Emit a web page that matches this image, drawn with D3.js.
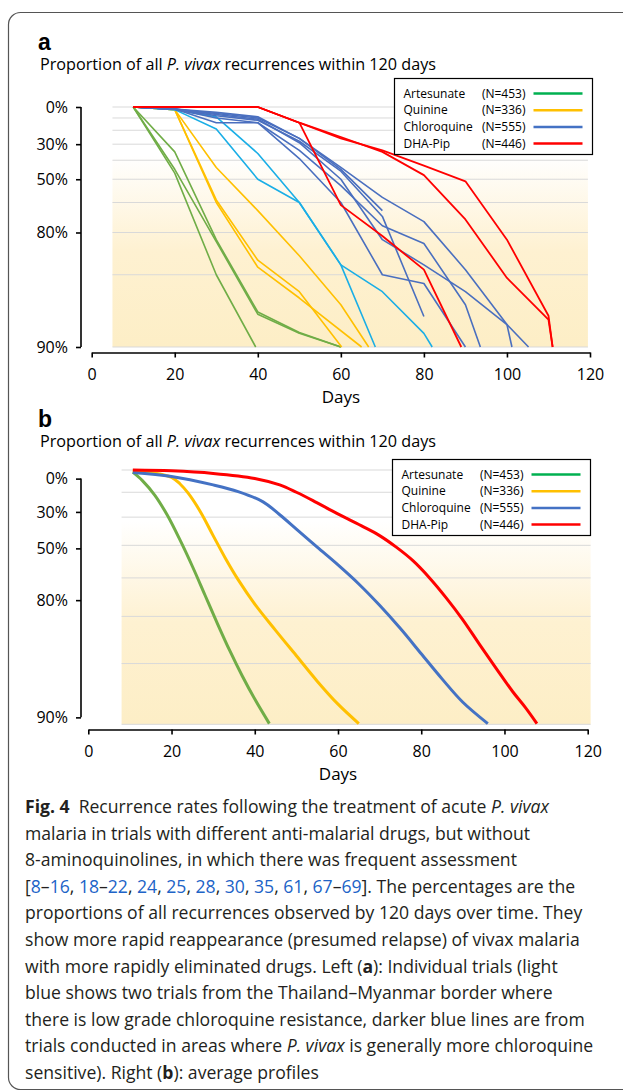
<!DOCTYPE html>
<html>
<head>
<meta charset="utf-8">
<script src="https://cdn.jsdelivr.net/npm/d3@7"></script>
<style>
  body { margin: 0; background: #fff; }
  svg { display: block; }
</style>
</head>
<body>
<svg width="623" height="1092"></svg>
<script>
var svg = d3.select('svg');
var font = "'Open Sans', sans-serif";

// Legend / categories
var drugs = ['Artesunate', 'Quinine', 'Chloroquine', 'DHA-Pip'];
var drugN = ['(N=453)', '(N=336)', '(N=555)', '(N=446)'];
var legendColours = ['#00b050', '#ffc000', '#4472c4', '#ff0000'];

// Axis ticks
var xTicks = [0, 20, 40, 60, 80, 100, 120];
var yTickLabels = ['0%', '30%', '50%', '80%', '90%'];
var yTicksA = [0, 30, 50, 70, 90];
var yTicksB = [4, 18, 31, 46, 69];
var gridA = [0, 10, 20, 30, 40, 50, 60, 70, 80, 90];
var gridB = [0, 10, 20, 30, 40, 50, 60, 70];

// Panel a: individual trials, [day, % of recurrences]
var artesunateTrials = [
    [[10, 0], [20, 35], [30, 72], [40, 86], [50, 88.5], [60, 90]],
    [[10, 0], [20, 47], [30, 80], [39.5, 90]],
    [[10, 0], [20, 45], [30, 72.5], [40, 86.3], [50, 88.6], [60, 90]]
];
var quinineTrials = [
    [[10, 0], [20, 2.5], [30, 44], [40, 63], [50, 76], [60, 85], [66.7, 90]],
    [[10, 0], [20, 2.5], [30, 59], [40, 77], [50, 83], [60.2, 90]],
    [[10, 0], [20, 2.5], [30, 60], [40, 78.5], [50, 84], [65, 90]]
];
var chloroquineTrials = [
    [[10, 0], [20, 2], [30, 6], [40, 10], [50, 26], [60, 45], [70, 63]],
    [[10, 0], [20, 2], [30, 8], [40, 12], [50, 28], [60, 46], [70, 65], [80, 86.6]],
    [[10, 0], [20, 2], [30, 10], [40, 14], [50, 34], [60, 53], [70, 68], [80, 73], [90, 85], [93.6, 90]],
    [[10, 0], [20, 2], [30, 5], [40, 9], [50, 26], [60, 44], [70, 58], [80, 66.7], [90, 79], [100, 87.6], [101.2, 90]],
    [[10, 0], [20, 2], [30, 7], [40, 11], [50, 29], [60, 50], [70, 72], [80, 78], [90, 83], [100, 87.6], [105.2, 90]],
    [[10, 0], [20, 2], [30, 14], [40, 14], [50, 39], [60, 60], [70, 80], [80, 81.6], [90, 90]]
];
var chloroquineThaiTrials = [
    [[10, 0], [20, 2.5], [30, 19], [40, 50], [50, 60], [60, 78], [70, 83], [80, 88.6], [82, 90]],
    [[10, 0], [20, 2.5], [30, 9], [40, 36], [50, 60], [60, 78], [68.3, 90]]
];
var dhaPipTrials = [
    [[10, 0], [40, 0], [50, 14], [60, 26], [70, 34], [80, 43], [90, 51], [100, 72], [110, 86.5], [111, 90]],
    [[10, 0], [40, 0], [50, 14], [60, 25], [70, 35], [80, 48], [90, 66], [100, 80.6], [110, 87], [111, 90]],
    [[10, 0], [40, 0], [50, 14], [60, 61], [70, 71], [80, 79], [89, 90]]
];

// Panel b: average profiles
var artesunateAvg = [[10.7, 1], [13, 4.9], [16, 11.3], [19, 19.3], [22, 28.1], [25, 36.6], [28, 44.6], [31, 51.6], [34, 57.5], [37, 62.3], [40, 66.2], [43.5, 69.9]];
var quinineAvg = [[10.7, 0.3], [15, 1.2], [20, 3.4], [22, 6.3], [24, 10.4], [27, 18.1], [30, 26.7], [33, 34.3], [36, 40.5], [40, 47], [45, 53.2], [50, 58.5], [55, 63.2], [60, 67], [65, 69.9]];
var chloroquineAvg = [[10.7, 1.2], [20, 3], [30, 6.8], [36, 9.7], [42, 14], [46, 19.1], [50, 24.4], [55, 30.6], [60, 36.2], [65, 41.7], [70, 47.3], [75, 52.8], [80, 58.1], [85, 62.8], [90, 66.7], [96, 69.9]];
var dhaPipAvg = [[10.7, 0], [20, 0.4], [30, 1.6], [40, 3.9], [46, 6.8], [50, 10], [54, 13.5], [58, 17.1], [62, 20.4], [66, 23.5], [70, 26.7], [74, 30.6], [78, 34.9], [82, 40], [86, 45.4], [90, 50.8], [94, 56.2], [98, 60.9], [102, 65], [105, 67.5], [107.8, 69.9]];

// Figure frame
svg.append('rect')
    .attr('x', 8.5).attr('y', 12.5)
    .attr('width', 640).attr('height', 1077)
    .attr('rx', 12)
    .attr('fill', 'none')
    .attr('stroke', '#555')
    .attr('stroke-width', 1.2);

var grad = svg.append('defs').append('linearGradient')
    .attr('id', 'cream')
    .attr('x1', 0).attr('y1', 0).attr('x2', 0).attr('y2', 1);
[[0, '#ffffff'], [0.2, '#ffffff'], [0.6, '#fef1d1'], [1, '#fdeec6']].forEach(function(s) {
    grad.append('stop').attr('offset', s[0]).attr('stop-color', s[1]);
});

function frac(p) {
    return 1 - p / 100;
}

function drawPanel(cfg) {
    var x = d3.scaleLinear().domain([0, 120]).range([cfg.left, cfg.right]);
    var y = d3.scaleLog().domain([1, frac(cfg.maxPct)]).range([cfg.top, cfg.bottom]);
    var g = svg.append('g');

    g.append('text')
        .attr('x', 38).attr('y', cfg.letterY)
        .style('font-family', 'Liberation Sans, Arial, sans-serif')
        .style('font-weight', 'bold')
        .style('font-size', '23px')
        .text(cfg.letter);

    var title = g.append('text')
        .attr('x', 40).attr('y', cfg.titleY)
        .style('font-family', font)
        .style('font-size', '16.2px');
    title.append('tspan').text('Proportion of all ');
    title.append('tspan').style('font-style', 'italic').text('P. vivax');
    title.append('tspan').text(' recurrences within 120 days');

    g.append('rect')
        .attr('x', x(cfg.plotFrom))
        .attr('y', cfg.top)
        .attr('width', x(cfg.plotTo) - x(cfg.plotFrom))
        .attr('height', cfg.bottom - cfg.top)
        .attr('fill', 'url(#cream)');

    g.selectAll('.grid')
        .data(cfg.grid)
        .enter()
        .append('line')
        .attr('class', 'grid')
        .attr('x1', x(cfg.plotFrom))
        .attr('x2', x(cfg.plotTo))
        .attr('y1', function(d) { return y(frac(d)); })
        .attr('y2', function(d) { return y(frac(d)); })
        .attr('stroke', '#d9d9d9')
        .attr('stroke-width', 1);

    // y axis, labels sit where the original put them
    var yAxis = d3.axisLeft(y)
        .tickValues(cfg.yTicks.map(frac))
        .tickFormat(function(d, i) { return yTickLabels[i]; })
        .tickSize(5)
        .tickSizeOuter(0);
    var yg = g.append('g')
        .attr('transform', 'translate(' + cfg.yAxisX + ',0)')
        .call(yAxis);
    var first = y(frac(cfg.yTicks[0]));
    var last = y(frac(cfg.yTicks[cfg.yTicks.length - 1]));
    yg.select('.domain').attr('d', 'M0,' + first + 'V' + last);

    var xAxis = d3.axisBottom(x)
        .tickValues(xTicks)
        .tickSize(5)
        .tickSizeOuter(0);
    var xg = g.append('g')
        .attr('transform', 'translate(0,' + cfg.xAxisY + ')')
        .call(xAxis);

    [yg, xg].forEach(function(a) {
        a.selectAll('.domain, .tick line').attr('stroke', '#000').attr('stroke-width', 1.6);
        a.selectAll('text')
            .style('font-family', font)
            .style('font-size', '16px')
            .attr('fill', '#000');
    });
    yg.selectAll('text').attr('x', -13);
    xg.selectAll('text').attr('y', 16);

    g.append('text')
        .attr('x', (cfg.left + cfg.right) / 2)
        .attr('y', cfg.xAxisY + 50)
        .attr('text-anchor', 'middle')
        .style('font-family', font)
        .style('font-size', '17px')
        .text('Days');

    var line = d3.line()
        .x(function(d) { return x(d[0]); })
        .y(function(d) { return y(frac(d[1])); });
    if (cfg.curve) line.curve(d3.curveCatmullRom.alpha(0.5));

    cfg.series.forEach(function(s) {
        g.selectAll(null)
            .data(s.lines)
            .enter()
            .append('path')
            .attr('d', line)
            .attr('fill', 'none')
            .attr('stroke', s.colour)
            .attr('stroke-width', s.width)
            .attr('stroke-linejoin', 'round');
    });

    // legend
    var lg = g.append('g').attr('transform', 'translate(' + cfg.legend[0] + ',' + cfg.legend[1] + ')');
    lg.append('rect')
        .attr('width', 198).attr('height', 76)
        .attr('fill', '#fff')
        .attr('stroke', '#000')
        .attr('stroke-width', 1.2);
    var rows = lg.selectAll('.row')
        .data(drugs)
        .enter()
        .append('g')
        .attr('transform', function(d, i) { return 'translate(0,' + (15 + i * 16.7) + ')'; });
    rows.append('text')
        .attr('x', 9).attr('dy', '0.35em')
        .style('font-family', font).style('font-size', '12px')
        .text(function(d) { return d; });
    rows.append('text')
        .attr('x', 131).attr('dy', '0.35em')
        .attr('text-anchor', 'end')
        .style('font-family', font).style('font-size', '12px')
        .text(function(d, i) { return drugN[i]; });
    rows.append('line')
        .attr('x1', 139).attr('x2', 188)
        .attr('stroke', function(d, i) { return legendColours[i]; })
        .attr('stroke-width', 2.5);
}

drawPanel({
    letter: 'a', letterY: 50, titleY: 70,
    left: 91.7, right: 590, top: 107, bottom: 347, maxPct: 90,
    plotFrom: 5, plotTo: 119.5,
    yAxisX: 81, xAxisY: 352.5,
    yTicks: yTicksA, grid: gridA,
    legend: [394.5, 78.5],
    curve: false,
    series: [
        {lines: artesunateTrials, colour: '#70ad47', width: 1.6},
        {lines: quinineTrials, colour: '#ffc000', width: 1.6},
        {lines: chloroquineThaiTrials, colour: '#1aaee6', width: 1.6},
        {lines: chloroquineTrials, colour: '#4a6fbf', width: 1.6},
        {lines: dhaPipTrials, colour: '#ff0000', width: 1.8}
    ]
});

drawPanel({
    letter: 'b', letterY: 427, titleY: 447,
    left: 88.3, right: 587.7, top: 470, bottom: 724.3, maxPct: 70,
    plotFrom: 8, plotTo: 120.7,
    yAxisX: 81, xAxisY: 729.5,
    yTicks: yTicksB, grid: gridB,
    legend: [392.5, 459.5],
    curve: true,
    series: [
        {lines: [artesunateAvg], colour: '#70ad47', width: 3},
        {lines: [quinineAvg], colour: '#ffc000', width: 3},
        {lines: [chloroquineAvg], colour: '#4472c4', width: 3},
        {lines: [dhaPipAvg], colour: '#ff0000', width: 3}
    ]
});

// Caption
var caption = [
    [['Fig. 4', 'b'], ['Recurrence rates following the treatment of acute ', 'gap'], ['P. vivax', 'i']],
    [['malaria in trials with different anti-malarial drugs, but without', '']],
    [['8-aminoquinolines, in which there was frequent assessment', '']],
    [['[', ''], ['8', 'r'], ['–', ''], ['16', 'r'], [', ', ''], ['18', 'r'], ['–', ''], ['22', 'r'], [', ', ''], ['24', 'r'], [', ', ''], ['25', 'r'], [', ', ''], ['28', 'r'], [', ', ''], ['30', 'r'], [', ', ''], ['35', 'r'], [', ', ''], ['61', 'r'], [', ', ''], ['67', 'r'], ['–', ''], ['69', 'r'], ['].', ''], [' The percentages are the', '']],
    [['proportions of all recurrences observed by 120 days over time. They', '']],
    [['show more rapid reappearance (presumed relapse) of vivax malaria', '']],
    [['with more rapidly eliminated drugs. Left (', ''], ['a', 'b'], ['): Individual trials (light', '']],
    [['blue shows two trials from the Thailand–Myanmar border where', '']],
    [['there is low grade chloroquine resistance, darker blue lines are from', '']],
    [['trials conducted in areas where ', ''], ['P. vivax', 'i'], [' is generally more chloroquine', '']],
    [['sensitive). Right (', ''], ['b', 'b'], ['): average profiles', '']]
];

var capText = svg.append('text')
    .style('font-family', font)
    .style('font-size', '17.6px')
    .attr('fill', '#231f20');
caption.forEach(function(parts, i) {
    parts.forEach(function(p, j) {
        var t = capText.append('tspan').text(p[0]);
        if (j == 0) t.attr('x', 25).attr('y', 813 + i * 26.6);
        if (p[1] == 'b') t.style('font-weight', 'bold');
        if (p[1] == 'i') t.style('font-style', 'italic');
        if (p[1] == 'r') t.attr('fill', '#2063c7');
        if (p[1] == 'gap') t.attr('dx', 9);
    });
});
</script>
</body>
</html>
